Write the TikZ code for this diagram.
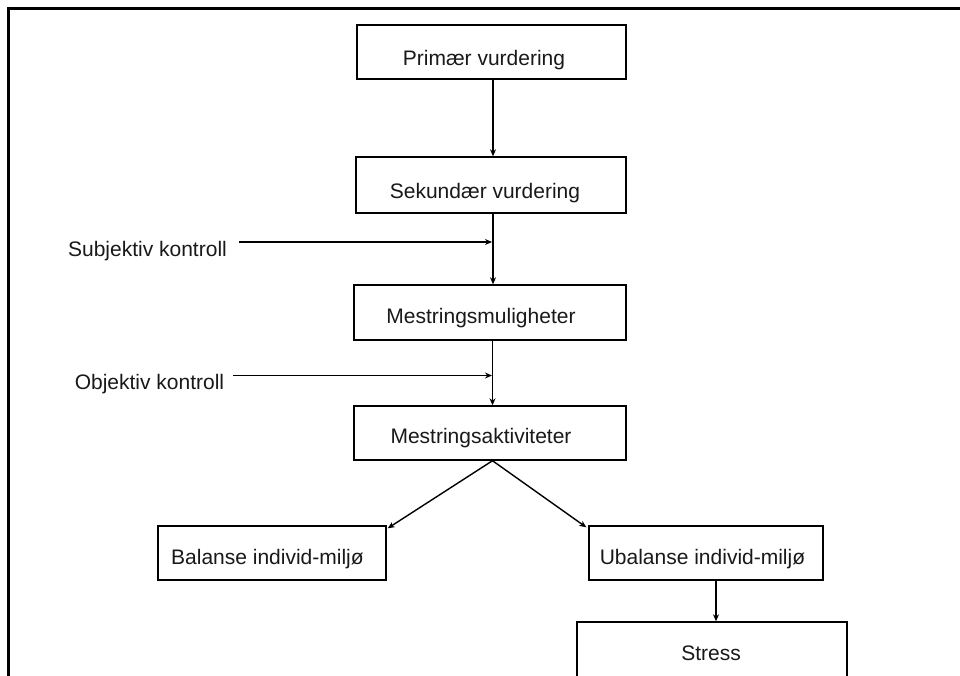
\documentclass[tikz,border=0pt]{standalone}
\usepackage{fontspec}
\setmainfont{Liberation Sans}
\usetikzlibrary{arrows.meta}
\begin{document}
\begin{tikzpicture}[x=1pt,y=-1pt,
  box/.style={draw=black,line width=1.4pt,rectangle,inner sep=0pt},
  lbl/.style={inner sep=0pt,anchor=base,font=\fontsize{21}{25}\selectfont,text=black!90},
  conn/.style={line width=1.4pt,-{Stealth[length=7pt,width=6pt]}},
  frame/.style={line width=3.2pt,line cap=rect}]
\useasboundingbox (0,0) rectangle (960,675);
\clip (0,0) rectangle (960,675);
\fill[white] (0,0) rectangle (960,675);
% frame
\coordinate (fc) at (8.5,8.5);
\coordinate (fr) at (962,8.5);
\coordinate (fb) at (8.5,677);
\draw[frame] (fr) -- (fc) -- (fb);
% boxes
\node[box,minimum width=269pt,minimum height=54pt] (prim) at (491.5,52) {};
\node[box,minimum width=270pt,minimum height=56pt] (sek) at (491,185) {};
\node[box,minimum width=272pt,minimum height=55pt] (mul) at (490,312.5) {};
\node[box,minimum width=272pt,minimum height=54pt] (akt) at (490,433) {};
\node[box,minimum width=228pt,minimum height=54pt] (bal) at (272,553) {};
\node[box,minimum width=234pt,minimum height=54pt] (ubal) at (706,553) {};
\node[box,minimum width=270pt,minimum height=56pt] (stress) at (712,650) {};
% texts
\node[lbl] (tprim) at (484,65) {Primær vurdering};
\node[lbl] (tsek) at (485,198) {Sekundær vurdering};
\node[lbl] (tmul) at (481,323) {Mestringsmuligheter};
\node[lbl] (takt) at (481,443) {Mestringsaktiviteter};
\node[lbl] (tbal) at (267.5,564) {Balanse individ-miljø};
\node[lbl] (tubal) at (702.5,564) {Ubalanse individ-miljø};
\node[lbl] (tstress) at (711,660) {Stress};
\node[lbl] (tsubj) at (147.5,256.5) {Subjektiv kontroll};
\node[lbl] (tobj) at (149.5,389) {Objektiv kontroll};
% connectors
\draw[conn] ([xshift=1.5pt]prim.south) -- ([xshift=1.5pt]prim.south |- sek.north);
\draw[conn] ([xshift=2pt]sek.south) -- ([xshift=2pt]sek.south |- mul.north);
\draw[conn] ([xshift=2.5pt]mul.south) -- ([xshift=2.5pt]mul.south |- akt.north);
\coordinate (subjs) at (239,242);
\coordinate (objs) at (233,375.5);
\draw[conn] (subjs) -- ([xshift=1pt]subjs -| sek.south);
\draw[conn] (objs) -- ([xshift=2pt]objs -| mul.south);
\draw[conn] ([xshift=2.5pt]akt.south) -- ([shift={(1pt,-3pt)}]bal.north east);
\draw[conn] ([xshift=2.5pt]akt.south) -- ([shift={(-2pt,-2pt)}]ubal.north west);
\draw[conn] ([xshift=10pt]ubal.south) -- ([xshift=10pt]ubal.south |- stress.north);
\end{tikzpicture}
\end{document}
